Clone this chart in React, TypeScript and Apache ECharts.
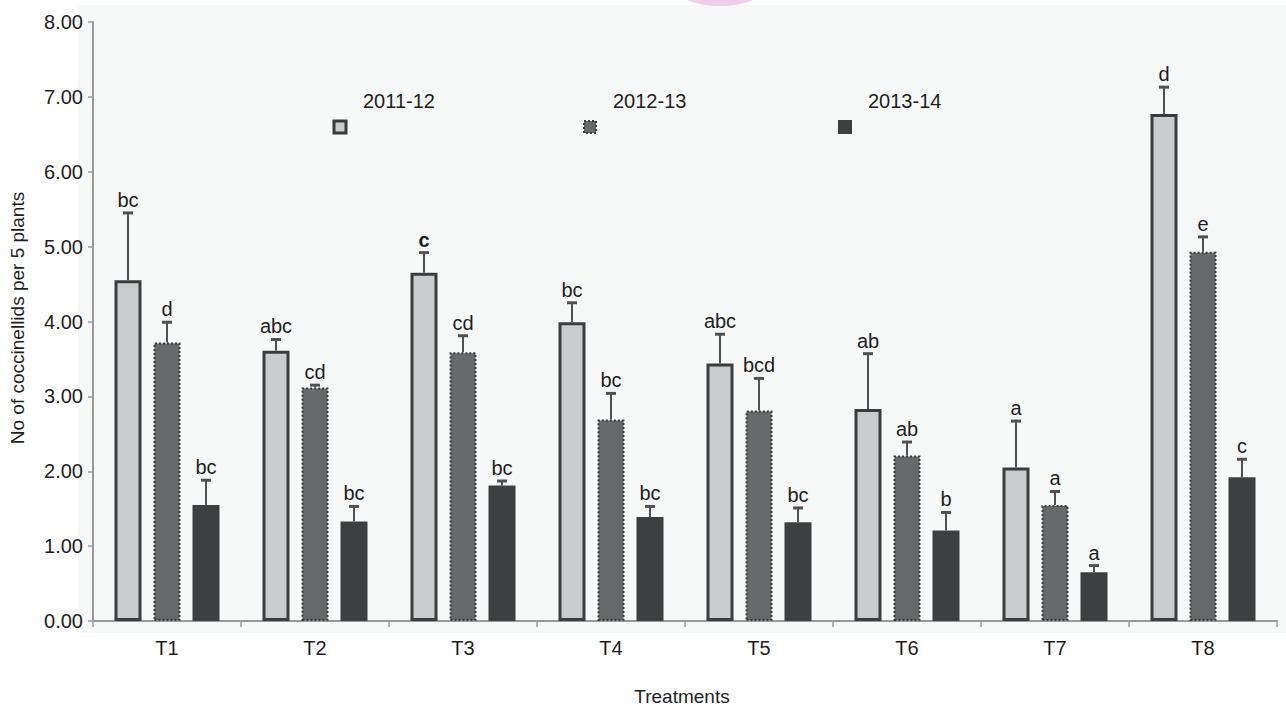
import React, { useEffect, useRef } from "react";
import * as echarts from "echarts";

// Treatments on the category axis
const treatments = ["T1", "T2", "T3", "T4", "T5", "T6", "T7", "T8"];
const seasons = ["2011-12", "2012-13", "2013-14"];
const yTicks = [0, 1, 2, 3, 4, 5, 6, 7, 8];

// Mean coccinellids per 5 plants, by season
const mean2011 = [4.55, 3.61, 4.65, 3.99, 3.44, 2.83, 2.05, 6.77];
const mean2012 = [3.72, 3.12, 3.59, 2.69, 2.81, 2.21, 1.55, 4.93];
const mean2013 = [1.55, 1.33, 1.81, 1.39, 1.32, 1.21, 0.65, 1.92];

// Upper end of each error bar (mean + SE)
const err2011 = [5.45, 3.76, 4.92, 4.25, 3.83, 3.57, 2.67, 7.13];
const err2012 = [3.99, 3.15, 3.81, 3.04, 3.24, 2.39, 1.73, 5.13];
const err2013 = [1.88, 1.53, 1.87, 1.53, 1.51, 1.45, 0.74, 2.16];

// Mean-separation letters
const letters2011 = ["bc", "abc", "c", "bc", "abc", "ab", "a", "d"];
const letters2012 = ["d", "cd", "cd", "bc", "bcd", "ab", "a", "e"];
const letters2013 = ["bc", "bc", "bc", "bc", "bc", "b", "a", "c"];

const FONT = "'Liberation Sans', Arial, sans-serif";
const BAR_W = 27;
const BAR_GAP = 12;

const means = [mean2011, mean2012, mean2013];
const errs = [err2011, err2012, err2013];
const letters = [letters2011, letters2012, letters2013];

const barStyles = [
  { color: "#c9cbcd", borderColor: "#3c3c3e", borderWidth: 3, borderType: "solid" },
  { color: "#68696b", borderColor: "#3a3a3c", borderWidth: 2, borderType: "dotted" },
  { color: "#3e3f41", borderColor: "#3e3f41", borderWidth: 0, borderType: "solid" },
];

export default function App() {
  const ref = useRef<HTMLDivElement>(null);

  useEffect(() => {
    if (!ref.current) return;
    const chart = echarts.init(ref.current, null, { renderer: "svg" });

    const barSeries = seasons.map((name, s) => ({
      name,
      type: "bar",
      data: means[s],
      barWidth: BAR_W,
      barGap: `${(BAR_GAP / BAR_W) * 100}%`,
      itemStyle: barStyles[s],
      z: 2,
    }));

    const errorSeries = seasons.map((name, s) => ({
      name: name + " SE",
      type: "custom",
      z: 4,
      data: treatments.map((_, i) => [i, means[s][i], errs[s][i], letters[s][i]]),
      renderItem: (params: any, api: any) => {
        const offset = (s - 1) * (BAR_W + BAR_GAP);
        const x = api.coord([api.value(0), 0])[0] + offset;
        const y1 = api.coord([api.value(0), api.value(1)])[1];
        const y2 = api.coord([api.value(0), api.value(2)])[1];
        const label = letters[s][params.dataIndex];
        const stroke = { stroke: "#505052", lineWidth: 2 };
        return {
          type: "group",
          children: [
            { type: "line", shape: { x1: x, y1, x2: x, y2 }, style: stroke },
            { type: "line", shape: { x1: x - 5, y1: y2, x2: x + 5, y2 }, style: { ...stroke, lineWidth: 3 } },
            {
              type: "text",
              style: {
                x,
                y: y2 - 3,
                text: label,
                align: "center",
                verticalAlign: "bottom",
                fill: "#1e1e1e",
                font: `${label === "c" && s === 0 && params.dataIndex === 2 ? "bold " : ""}20px ${FONT}`,
              },
            },
          ],
        };
      },
    }));

    // Legend entries laid out across the plot
    const legendX = [340, 590, 845];
    const legendY = 127;
    const legendGraphics: any[] = [];
    seasons.forEach((name, s) => {
      const st = barStyles[s];
      legendGraphics.push({
        type: "rect",
        shape: { x: legendX[s] - 6, y: legendY - 6, width: 12, height: 12 },
        style: {
          fill: s === 0 ? "#c9cbcd" : st.color,
          stroke: s === 2 ? st.color : "#3a3a3c",
          lineWidth: s === 0 ? 3 : 2,
          lineDash: s === 1 ? [2, 2] : null,
        },
      });
      legendGraphics.push({
        type: "text",
        x: legendX[s] + 23,
        y: legendY - 26,
        style: { text: name, fill: "#1e1e1e", font: `20px ${FONT}`, verticalAlign: "middle" },
      });
    });

    chart.setOption({
      animation: false,
      backgroundColor: "#ffffff",
      grid: { left: 93, right: 9, top: 22, bottom: 87 },
      xAxis: {
        type: "category",
        data: treatments,
        axisLine: { lineStyle: { color: "#9a9a9a", width: 2 } },
        axisTick: { show: true, length: 6, lineStyle: { color: "#9a9a9a", width: 1.5 } },
        axisLabel: { color: "#1e1e1e", fontFamily: FONT, fontSize: 20, margin: 17 },
      },
      yAxis: {
        type: "value",
        min: yTicks[0],
        max: yTicks[yTicks.length - 1],
        interval: 1,
        axisLine: { show: true, lineStyle: { color: "#9a9a9a", width: 2 } },
        axisTick: { show: true, length: 5, lineStyle: { color: "#9a9a9a", width: 1.5 } },
        splitLine: { show: false },
        axisLabel: {
          color: "#1e1e1e",
          fontFamily: FONT,
          fontSize: 20,
          margin: 10,
          formatter: (v: number) => v.toFixed(2),
        },
      },
      graphic: [
        {
          type: "rect",
          z: -10,
          silent: true,
          shape: { x: 78, y: 5, width: 1208, height: 628 },
          style: { fill: "#f7f9f9" },
        },
        {
          type: "ellipse",
          z: -5,
          silent: true,
          shape: { cx: 720, cy: -12, rx: 44, ry: 18 },
          style: { fill: "#f0cdea" },
        },
        {
          type: "text",
          x: 682,
          y: 696,
          style: { text: "Treatments", fill: "#1e1e1e", font: `19px ${FONT}`, align: "center", verticalAlign: "middle" },
        },
        {
          type: "text",
          x: 17,
          y: 318,
          rotation: Math.PI / 2,
          style: {
            text: "No of coccinellids per 5 plants",
            fill: "#1e1e1e",
            font: `19px ${FONT}`,
            align: "center",
            verticalAlign: "middle",
          },
        },
        ...legendGraphics,
      ],
      series: [...barSeries, ...errorSeries],
    });

    return () => chart.dispose();
  }, []);

  return <div ref={ref} style={{ width: 1286, height: 708, position: "absolute", left: 0, top: 0 }} />;
}
